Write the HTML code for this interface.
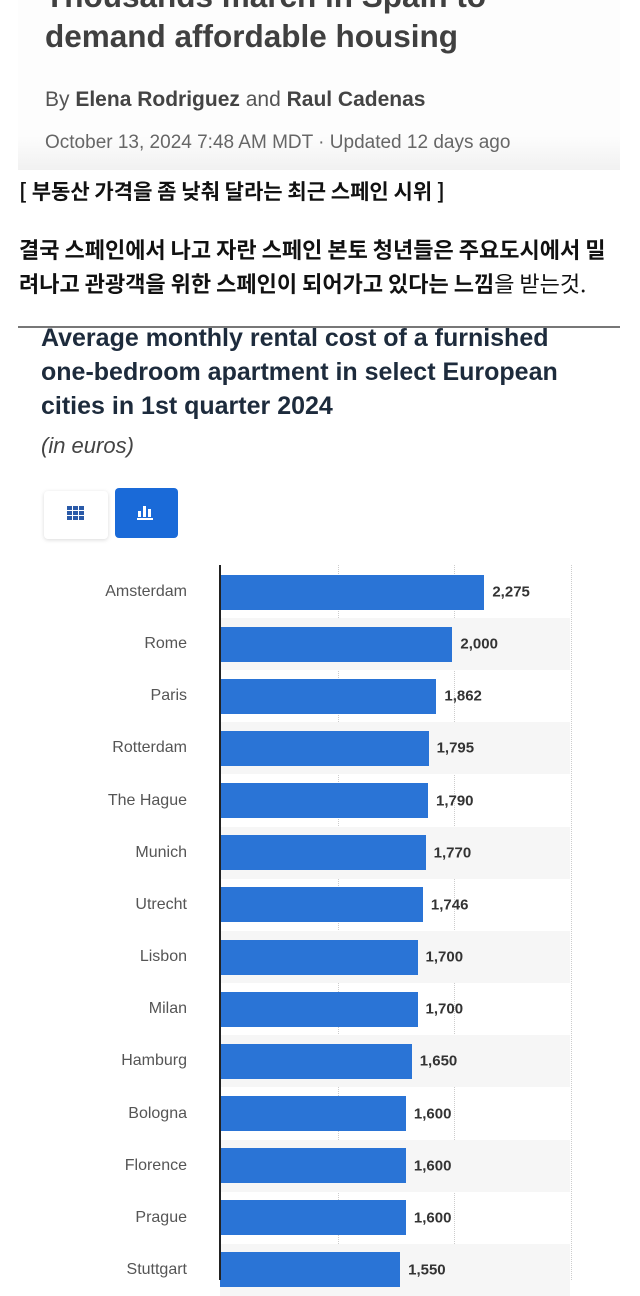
<!DOCTYPE html>
<html><head><meta charset="utf-8"><style>
*{margin:0;padding:0;box-sizing:border-box}
body{width:640px;height:1280px;overflow:hidden;background:#fff;font-family:"Liberation Sans","Noto Sans CJK KR",sans-serif;position:relative}
.abs{position:absolute;white-space:nowrap}
.hdr{position:absolute;left:18px;top:0;width:602px;height:170px;background:linear-gradient(#fdfdfd 80%,#f1f1f1)}
.h1{font-size:31.5px;font-weight:bold;color:#404040;left:45px}
.kr{font-family:"Noto Sans CJK KR","NanumGothic",sans-serif;color:#111}
.lab{position:absolute;right:453px;font-size:16px;color:#555;transform:translateY(-50%)}
.bar{position:absolute;left:220px;height:35px;background:#2a74d6}
.val{position:absolute;font-size:15px;font-weight:bold;color:#333;transform:translateY(-50%)}
.stripe{position:absolute;left:220px;width:350px;height:52px;background:#f6f6f6}
.grid{position:absolute;top:565px;bottom:0;border-left:1px dotted #ccc}
</style></head><body>
<div class="hdr"></div>
<div class="abs h1" style="top:-22px">Thousands march in Spain to</div>
<div class="abs h1" style="top:18px">demand affordable housing</div>
<div class="abs" style="left:45px;top:88px;font-size:21px;color:#555">By <b style="color:#444">Elena Rodriguez</b> and <b style="color:#444">Raul Cadenas</b></div>
<div class="abs" style="left:45px;top:132px;font-size:19px;color:#666">October 13, 2024 7:48 AM MDT · Updated 12 days ago</div>
<div class="abs kr" style="left:19px;top:176px;font-size:21px;font-weight:bold">[ 부동산 가격을 좀 낮춰 달라는 최근 스페인 시위 ]</div>
<div class="abs kr" style="left:19px;top:232px;font-size:22px;font-weight:bold;line-height:34px">결국 스페인에서 나고 자란 스페인 본토 청년들은 주요도시에서 밀<br>려나고 관광객을 위한 스페인이 되어가고 있다는 느낌<span style="font-weight:normal">을 받는것.</span></div>
<div class="abs" style="left:18px;top:326px;width:602px;height:2px;background:#777"></div>
<div class="abs" style="left:41px;top:321px;font-size:25px;font-weight:bold;color:#1d2b3c;line-height:34px">Average monthly rental cost of a furnished<br>one-bedroom apartment in select European<br>cities in 1st quarter 2024</div>
<div class="abs" style="left:41px;top:433px;font-size:22px;font-style:italic;color:#444">(in euros)</div>
<div class="abs" style="left:44px;top:491px;width:64px;height:48px;background:#fff;border-radius:4px;box-shadow:0 1px 4px rgba(0,0,0,.15)"></div>
<div class="abs" style="left:67px;top:506px;width:17px;height:14px;background:repeating-linear-gradient(90deg,#2a5aa8 0 5px,transparent 5px 6px);-webkit-mask:repeating-linear-gradient(#000 0 4px,transparent 4px 5px)"></div>
<div class="abs" style="left:115px;top:488px;width:63px;height:50px;background:#1a6ad8;border-radius:4px"></div>
<svg class="abs" style="left:136px;top:503px" width="20" height="18"><rect x="2" y="8" width="3" height="6" fill="#fff"/><rect x="7" y="3" width="3" height="11" fill="#fff"/><rect x="12" y="6" width="3" height="8" fill="#fff"/><rect x="1" y="15" width="16" height="2" fill="#fff"/></svg>
<div class="grid" style="left:338px"></div><div class="grid" style="left:454px"></div><div class="grid" style="left:571px"></div>
<div id="c"></div>
<div class="abs" style="left:219px;top:565px;width:2px;height:715px;background:#222"></div>
<script>
var d=[["Amsterdam",2275],["Rome",2000],["Paris",1862],["Rotterdam",1795],["The Hague",1790],["Munich",1770],["Utrecht",1746],["Lisbon",1700],["Milan",1700],["Hamburg",1650],["Bologna",1600],["Florence",1600],["Prague",1600],["Stuttgart",1550]];
var h="";d.forEach(function(r,i){var c=592+i*52.15,w=r[1]*0.1162;
if(i%2)h+='<div class="stripe" style="top:'+(c-26)+'px"></div>';
h+='<div class="lab" style="top:'+c+'px">'+r[0]+'</div><div class="bar" style="top:'+(c-17.5)+'px;width:'+w+'px"></div><div class="val" style="top:'+c+'px;left:'+(228+w)+'px">'+r[1].toLocaleString("en-US")+'</div>';});
document.getElementById("c").innerHTML=h;
</script>
</body></html>
